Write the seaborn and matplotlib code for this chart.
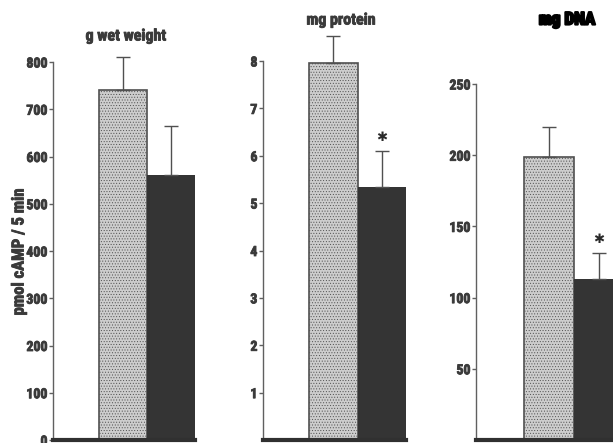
import matplotlib
matplotlib.use("Agg")
import matplotlib.pyplot as plt
import matplotlib.patheffects as pe
import seaborn as sns
import pandas as pd

# ---- data ----
groups = ["control", "treated"]
wet_means = [740, 560]
wet_err = [70, 105]
protein_means = [7.95, 5.33]
protein_err = [0.58, 0.76]
dna_means = [199, 113]
dna_err = [21, 18]
wet_sig = [False, False]
protein_sig = [False, True]
dna_sig = [False, True]

titles = ["g wet weight", "mg protein", "mg DNA"]
wet_ticks = [0, 100, 200, 300, 400, 500, 600, 700, 800]
protein_ticks = [1, 2, 3, 4, 5, 6, 7, 8]
dna_ticks = [50, 100, 150, 200, 250]
ylabel = "pmol cAMP / 5 min"

sns.set_style("white")
plt.rcParams["font.family"] = ["Roboto Condensed", "DejaVu Sans"]
plt.rcParams["hatch.linewidth"] = 0.4
plt.rcParams["hatch.color"] = "#8a8a8a"

W, H = 613, 443
fig = plt.figure(figsize=(W / 100, H / 100), dpi=100)
fig.patch.set_facecolor("white")

def px_axes(left, top, width, bottom):
    return fig.add_axes([left / W, (H - bottom) / H, width / W, (bottom - top) / H])

txt = "#3a3a3a"
light = "#cdcdcd"
dark = "#343434"
thick = [pe.withStroke(linewidth=0.6, foreground=txt)]

panels = [
    (wet_means, wet_err, wet_sig, wet_ticks, 800, (53, 62, 141.6, 440)),
    (protein_means, protein_err, protein_sig, protein_ticks, 8, (263, 61, 143, 440)),
    (dna_means, dna_err, dna_sig, dna_ticks, 250, (476, 84, 147.5, 440)),
]

for i, (means, errs, sig, ticks, ytop, box) in enumerate(panels):
    ax = px_axes(*box)
    df = pd.DataFrame({"group": groups, "value": means})
    sns.barplot(data=df, x="group", y="value", hue="group",
                palette=[light, dark], width=1.0, errorbar=None,
                legend=False, ax=ax, saturation=1)
    bars = ax.patches
    bars[0].set_hatch("......")
    bars[0].set_edgecolor("#505050")
    bars[0].set_linewidth(1.2)
    bars[1].set_edgecolor(dark)
    bars[1].set_linewidth(0)
    ax.errorbar(x=[0, 1], y=means, yerr=[[0, 0], errs], fmt="none",
                ecolor="#505050", elinewidth=1.0, capsize=5, capthick=1.0,
                clip_on=False, zorder=3)
    for j in range(2):
        if sig[j]:
            ax.annotate("✱", xy=(j, means[j] + errs[j]), xytext=(0, 10),
                        textcoords="offset points", ha="center", va="center",
                        fontsize=9.5, color="#2a2a2a", family="DejaVu Sans",
                        annotation_clip=False)
    ax.set_xlim(-1.45, 1.5)
    ax.set_ylim(0, ytop)
    ax.set_yticks(ticks)
    ax.set_yticklabels([str(t) for t in ticks])
    ax.set_xticks([])
    ax.set_xlabel("")
    ax.set_ylabel("")
    for s in ["top", "right"]:
        ax.spines[s].set_visible(False)
    ax.spines["left"].set_color("#606060")
    ax.spines["left"].set_linewidth(1.0)
    ax.spines["bottom"].set_color("#303030")
    ax.spines["bottom"].set_linewidth(3.0)
    ax.tick_params(axis="y", direction="out", length=3, width=1,
                   color="#606060", pad=1, labelsize=10, labelcolor=txt,
                   left=True)
    for lab in ax.get_yticklabels():
        lab.set_fontweight("bold")
        lab.set_path_effects(thick)
    ax.patch.set_alpha(0)

fig.text(126 / W, 1 - 36 / H, titles[0], ha="center", va="center",
         fontsize=11.5, fontweight="bold", color=txt, path_effects=thick)
fig.text(341 / W, 1 - 20 / H, titles[1], ha="center", va="center",
         fontsize=11.5, fontweight="bold", color=txt, path_effects=thick)
fig.text(567 / W, 1 - 20 / H, titles[2], ha="center", va="center",
         fontsize=12.5, fontweight="bold", color="black",
         path_effects=[pe.withStroke(linewidth=1.6, foreground="black")])
fig.text(19 / W, 1 - 252 / H, ylabel, ha="center", va="center",
         rotation=90, fontsize=12, fontweight="bold", color=txt,
         path_effects=thick)

fig.savefig("out.png", dpi=100)
